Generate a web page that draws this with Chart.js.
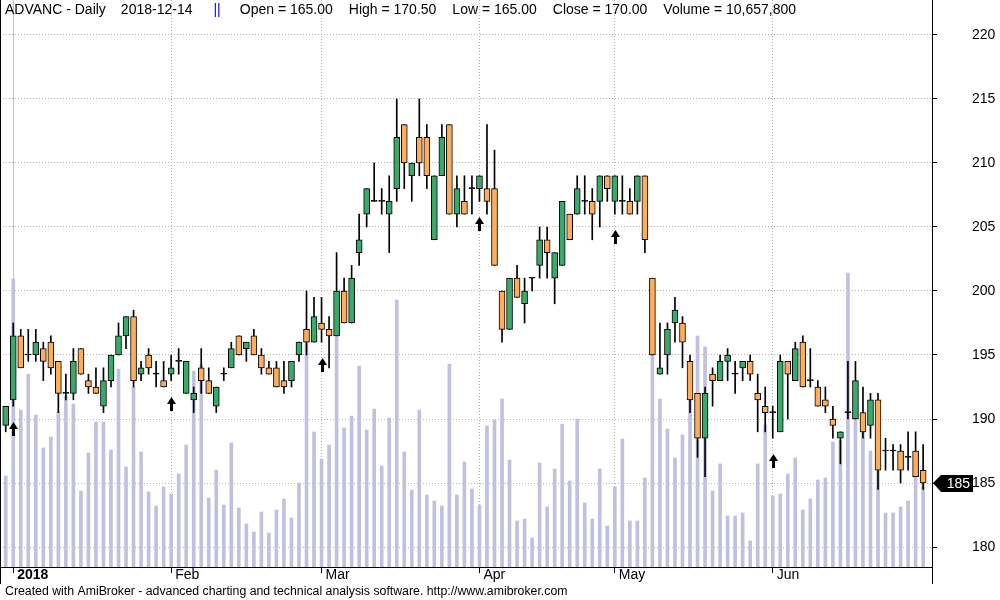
<!DOCTYPE html>
<html><head><meta charset="utf-8">
<script src="https://cdn.jsdelivr.net/npm/chart.js@4/dist/chart.umd.min.js"></script>
<style>html,body{margin:0;padding:0;background:#fff;}#wrap{width:1000px;height:600px;}</style>
</head><body><div id="wrap"><canvas id="c" width="1000" height="600"></canvas></div>
<script>
const openP  = [189.5,191.5,196.5,195,195,195.5,196,194.5,192,192,195.5,193,192.5,191,193,195,196.5,198,193.5,195,193.5,193,193.5,194.5,192,191.5,194,193,191,193.5,194,196.5,195.5,196.5,195,194,194,193,193,195,197,196,197.5,197,196.5,200,197.5,203,206,207,207,206,208,213,209,212,212,204,209,213,206,207,208,208,208,208,200,197,201,199,201,202,204,201,202,206,206,207,207,207,209,207,207,207,207,209,201,193.5,195,197.5,197.5,194.5,192,188.5,193.5,193,194.5,193.5,194,194.5,192,191,190.5,189,194.5,193,196,193,192.5,191.5,190,188.5,190.5,190,190.5,189.5,191.5,187.5,187.5,187.5,187,187.5,186];
const highP  = [191,197.5,197,197,197,196,196.5,194.5,193.5,195.5,195.5,193.5,194,194,195,197.5,198,198.5,194.5,195.5,194.5,194.5,195,195.5,194.5,192.5,195.5,194,192.5,194,196,196.5,196,197,195.5,194.5,194.5,194.5,194.5,196,200,199.5,199.5,198,203,201,202,206,208,210,208,209,215,213,210,215,213,209,213,213,209,209,209,209,213,211,200,201,202,201,201,205,205,203,207,206,209,209,208,209,209,209,209,208,209,209,201,197.5,197.5,199.5,198,195,192,192.5,194,195,195.5,194.5,194.5,195,193.5,192.5,191,195,194.5,196,196.5,195.5,193,192.5,191,189,194.5,194.5,192.5,192,192,188.5,188,188,189,189,188];
const lowP   = [189,191,194,194.5,194.5,193,193.5,190.5,191.5,191.5,193.5,192,192,190.5,192.5,195,195.5,192.5,193,193.5,192.5,192.5,193,193.5,192,190.5,192,192,190.5,193,194,195,194.5,195,193.5,193.5,192.5,192,192.5,194.5,195,196,196,194,196.5,197.5,197.5,202,205,207,206,203,207,208,207,209,208,204,209,206,205,206,206,207,206,202,196,197,199.5,197.5,200,201,201,199,202,204,206,206,204,205,207,206,206,206,206,203,195,193.5,193.5,196,194,190.5,187,185.5,191,193,193,192,193,193,189,189,188.5,189,190,193,192.5,192.5,191,190.5,188.5,186.5,190,190,188.5,188.5,184.5,186,186,185,186,185.5,184.5];
const closeP = [191,196.5,194,195,196,194.5,194,192,192,194.5,193.5,192.5,192,193,195,196.5,198,193,194,194,193.5,192.5,194,194.5,194.5,192,193,192,192.5,193.5,195.5,195,196,195,194,193.5,192.5,192.5,194.5,196,196,198,197,196.5,200,197.5,201,204,208,207,207,207,212,210,210,210,209,209,212,206,208,206,208,209,207,202,197,201,199.5,200,201,204,203,203,207,204,208,207,206,209,208,209,207,206,209,204,195,194,197,198.5,196,191.5,188.5,192,193,194.5,195,193.5,194.5,193.5,191.5,190.5,190.5,194.5,193.5,195.5,192.5,193,191,191,189.5,189,190.5,193,189,191.5,186,187.5,187.5,186,187,185.5,185];
const volumeM = [9.1,28.8,15.7,19.3,15.2,11.9,13.0,15.5,17.1,16.3,7.6,11.4,14.5,14.5,11.7,19.8,10.0,18.0,11.5,7.5,6.1,8.0,7.3,9.3,12.2,19.6,20.2,6.9,9.7,6.2,12.4,5.9,4.3,3.5,5.5,3.4,5.7,6.8,4.9,8.4,22.7,13.5,10.8,12.2,23.7,13.9,15.1,20.1,13.7,15.8,10.1,14.9,26.7,11.5,7.7,15.7,7.2,6.6,6.1,20.3,7.2,10.5,7.8,6.2,14.1,14.7,16.8,10.7,4.6,4.8,2.9,10.4,6.0,9.8,14.3,8.6,14.8,6.4,4.8,9.8,4.1,8.0,12.8,4.6,4.6,8.9,23.7,16.8,13.8,10.9,13.2,18.7,23.1,22.0,7.6,10.3,5.1,5.1,5.4,2.6,10.3,14.2,7.1,7.3,9.3,10.9,5.7,6.8,8.7,8.9,12.5,12.7,29.4,17.7,13.5,11.6,9.7,5.4,5.4,6.0,6.6,10.7,9.2];
const monthIdx = [1,22,42,63,81,102];
const monthLabels = ['2018','Feb','Mar','Apr','May','Jun'];
const arrowIdx = [1,22,42,63,81,102];
const priceTicks = [180,185,190,195,200,205,210,215,220];
const titleParts = [
  {text:'ADVANC - Daily', gap:0, color:'#000'},
  {text:'2018-12-14', gap:15, color:'#000'},
  {text:'||', gap:21, color:'#0000ff'},
  {text:'Open = 165.00', gap:19, color:'#000'},
  {text:'High = 170.50', gap:16, color:'#000'},
  {text:'Low = 165.00', gap:16, color:'#000'},
  {text:'Close = 170.00', gap:16, color:'#000'},
  {text:'Volume = 10,657,800', gap:16, color:'#000'}
];
const footerText = 'Created with AmiBroker - advanced charting and technical analysis software. http://www.amibroker.com';

const FONT = '"Liberation Sans", Arial, sans-serif';
const UP = '#3aaa6a', DOWN = '#ffad5b', VOLC = '#c0c0e0';

const bodyData = openP.map((o,i)=>({x:i, y:[Math.min(o,closeP[i]), Math.max(o,closeP[i])]}));
const bodyColors = openP.map((o,i)=> closeP[i]>o ? UP : (closeP[i]<o ? DOWN : '#000'));
const wickData = lowP.map((l,i)=>({x:i, y:[l, highP[i]]}));
const volData = volumeM.map((v,i)=>({x:i, y:v}));

const amiPlugin = {
  id:'ami',
  afterDatasetsDraw(chart){
    const {ctx, scales:{x, y}, chartArea} = chart;
    ctx.save();
    ctx.fillStyle = '#000';
    arrowIdx.forEach(i=>{
      const px = Math.round(x.getPixelForValue(i));
      const tip = Math.round(y.getPixelForValue(lowP[i])) + 16;
      ctx.beginPath();
      ctx.moveTo(px+0.5, tip);
      ctx.lineTo(px+5, tip+7);
      ctx.lineTo(px-4, tip+7);
      ctx.closePath();
      ctx.fill();
      ctx.fillRect(px-1, tip+6, 3, 8);
    });
    const last = closeP[closeP.length-1];
    const ly = Math.round(y.getPixelForValue(last));
    const rx = chartArea.right;
    ctx.beginPath();
    ctx.moveTo(rx+1, ly);
    ctx.lineTo(rx+9, ly-8);
    ctx.lineTo(rx+41, ly-8);
    ctx.lineTo(rx+41, ly+9);
    ctx.lineTo(rx+9, ly+9);
    ctx.closePath();
    ctx.fill();
    ctx.fillStyle = '#fff';
    ctx.font = '14px ' + FONT;
    ctx.textBaseline = 'middle';
    ctx.textAlign = 'right';
    ctx.fillText(String(last), rx+38, ly+1);
    ctx.restore();
  },
  afterDraw(chart){
    const {ctx, chartArea} = chart;
    ctx.save();
    ctx.font = '14px ' + FONT;
    ctx.textBaseline = 'middle';
    ctx.textAlign = 'left';
    let tx = 5;
    titleParts.forEach(p=>{
      tx += p.gap;
      ctx.fillStyle = p.color;
      ctx.fillText(p.text, tx, 10);
      tx += ctx.measureText(p.text).width;
    });
    ctx.font = '12.3px ' + FONT;
    ctx.fillStyle = '#000';
    ctx.fillText(footerText, 5, 592);
    ctx.strokeStyle = '#000';
    ctx.lineWidth = 1;
    ctx.beginPath();
    ctx.moveTo(0.5, 0); ctx.lineTo(0.5, 584);
    ctx.moveTo(chartArea.right+0.5, 0); ctx.lineTo(chartArea.right+0.5, 584);
    ctx.stroke();
    ctx.restore();
  }
};

new Chart(document.getElementById('c'), {
  type:'bar',
  data:{ datasets:[
    {label:'body', data:bodyData, backgroundColor:bodyColors, borderColor:'#000', borderWidth:1, borderSkipped:false, barThickness:6, minBarLength:1, yAxisID:'y', order:0, grouped:false},
    {label:'wick', data:wickData, backgroundColor:'#000', borderWidth:0, barThickness:1, yAxisID:'y', order:1, grouped:false},
    {label:'volume', data:volData, backgroundColor:VOLC, borderWidth:0, barThickness:3, yAxisID:'yVol', order:2, grouped:false}
  ]},
  options:{
    responsive:false, animation:false, devicePixelRatio:1,
    layout:{padding:0},
    plugins:{legend:{display:false}, tooltip:{enabled:false}, title:{display:false}},
    scales:{
      x:{type:'linear', min:-0.76, max:123.18, offset:false,
         afterBuildTicks:(s)=>{ s.ticks = monthIdx.map(v=>({value:v})); },
         afterFit:(s)=>{ s.height = 33; s.paddingLeft = 0; s.paddingRight = 0; },
         ticks:{autoSkip:false, maxRotation:0, align:'start', labelOffset:4, padding:-6, color:'#000',
           callback:(v,i)=>monthLabels[i],
           font:(c)=>({family:FONT, size:14, weight: c.index===0 ? 'bold' : 'normal'})},
         grid:{offset:false, color:(c)=> c.index===0 ? '#c4c4c4' : '#b4b4b4', lineWidth:1, drawTicks:true, tickLength:6, tickColor:'#000'},
         border:{display:true, color:'#000', width:1, dash:(c)=> c.index===0 ? [] : [1,2]}
      },
      y:{position:'right', min:178.44, max:222.73,
         afterBuildTicks:(s)=>{ s.ticks = priceTicks.map(v=>({value:v})); },
         afterFit:(s)=>{ s.width = 68; s.paddingTop = 0; s.paddingBottom = 0; },
         ticks:{padding:35, color:'#000', font:{family:FONT, size:14}, callback:(v)=>String(v)},
         grid:{color:'#b4b4b4', lineWidth:1, tickLength:5, tickColor:'#000'},
         border:{display:true, color:'#000', width:1, dash:[1,2]}
      },
      yVol:{display:false, min:0, max:56.7}
    }
  },
  plugins:[amiPlugin]
});
</script></body></html>
